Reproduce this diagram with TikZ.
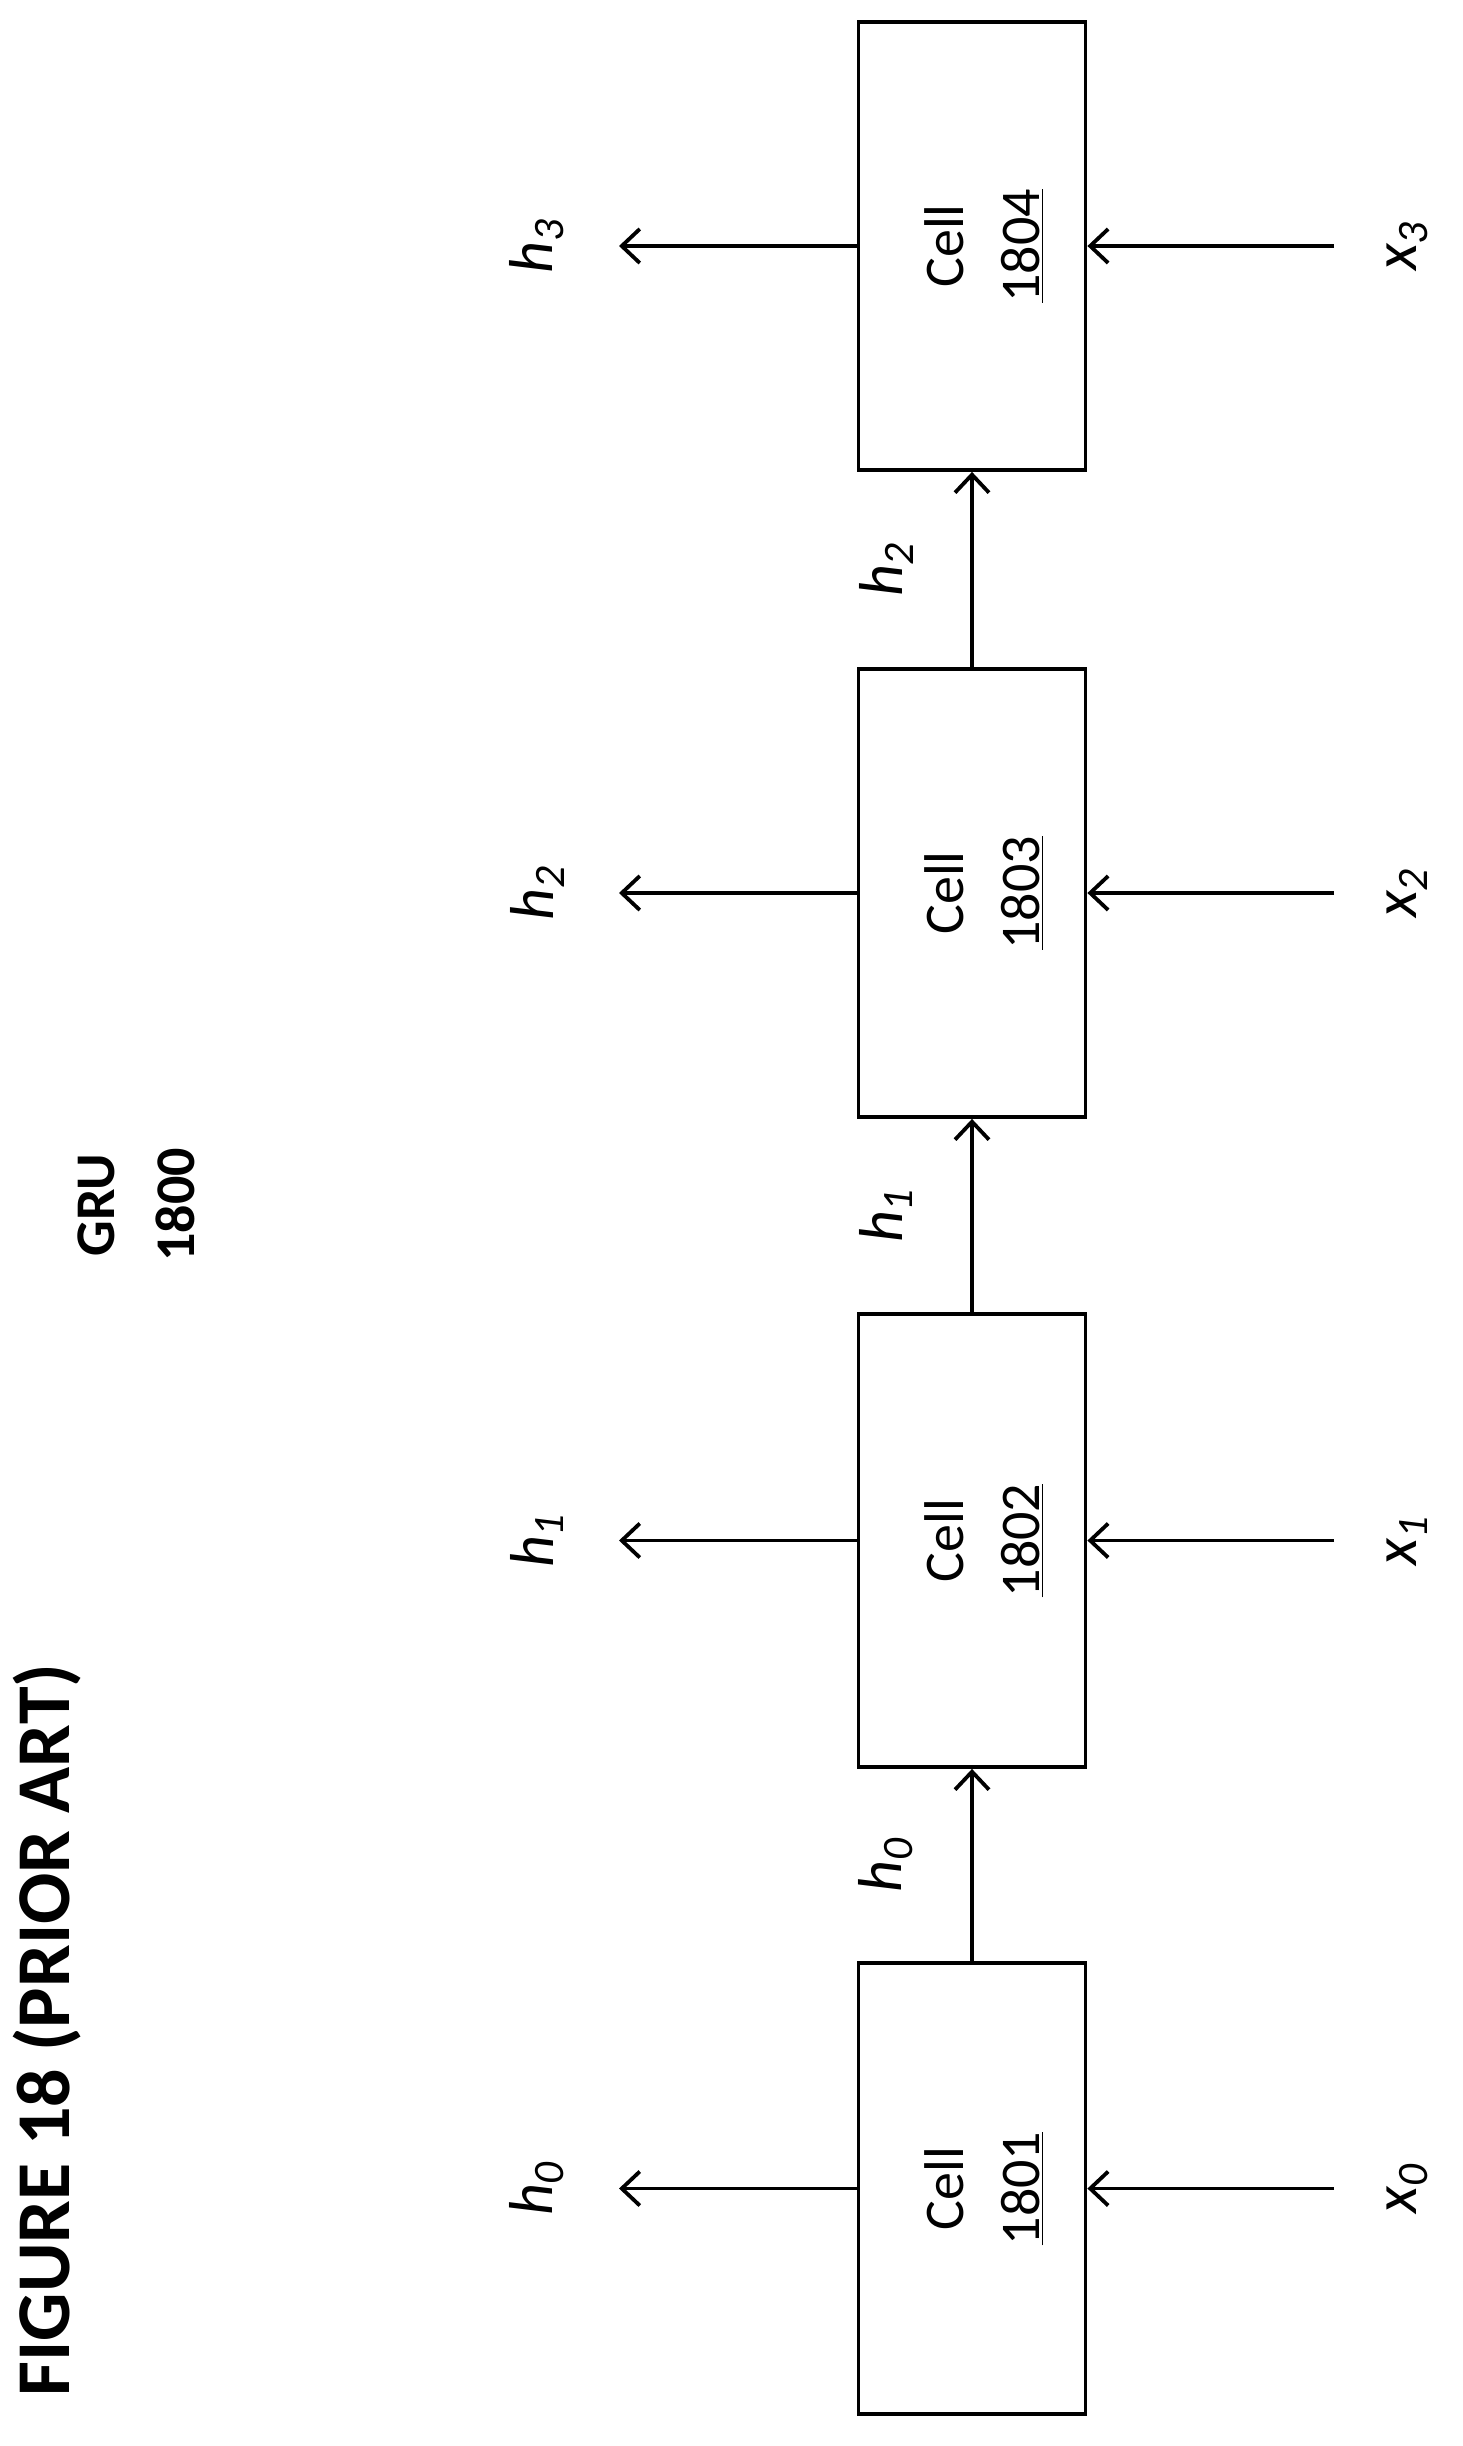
\documentclass[tikz,border=0pt]{standalone}
\usepackage{fontspec}
\setmainfont{Carlito}
\usetikzlibrary{arrows.meta,calc}
\begin{document}
\begin{tikzpicture}[x=0.5pt,y=-0.5pt,
  box/.style={draw,line width=1.9pt,minimum width=113.5pt,inner sep=0pt},
  arr/.style={line width=1.9pt,-{Straight Barb[length=9pt,width=17pt,line width=1.9pt]}},
  lab/.style={rotate=90,font=\fontsize{31}{36}\selectfont\itshape},
  ctext/.style={rotate=90,font=\fontsize{28}{38}\selectfont,align=center}]
\useasboundingbox (0,0) rectangle (1462,2446);
\foreach \n/\a/\b in {1804/22/470,1803/669/1117,1802/1314/1767,1801/1963/2414}{
  \node[box,minimum height={(\b-\a)*0.5pt}] (c\n) at (972,{(\a+\b)/2}) {};
  \node[ctext] (t\n) at (984,{(\a+\b)/2}) {Cell\\\underline{\n}};
}
\foreach \n/\i in {1801/0,1802/1,1803/2,1804/3}{
  \coordinate (o\n) at (619,0 |- c\n.center);
  \coordinate (s\n) at (1334,0 |- c\n.center);
  \draw[arr] (c\n.west) -- (o\n);
  \draw[arr] (s\n) -- (c\n.east);
  \node[lab] (h\n) at (537,0 |- c\n.center) {h\textsubscript{\i}};
  \node[lab] (x\n) at (1407,0 |- c\n.center) {x\textsubscript{\i}};
}
\foreach \p/\q/\i in {1801/1802/0,1802/1803/1,1803/1804/2}{
  \draw[arr] (c\p.north) -- (c\q.south);
  \node[lab] (m\i) at ($(c\p.north)!0.5!(c\q.south)+(-86,0)$) {h\textsubscript{\i}};
}
\node[rotate=90,font=\fontsize{38}{44}\selectfont\bfseries] (title) at (47,2030) {FIGURE 18 (PRIOR ART)};
\node[rotate=90,font=\fontsize{28}{40}\selectfont\bfseries,align=center] (gru) at (136,1205) {GRU\\1800};
\end{tikzpicture}
\end{document}
